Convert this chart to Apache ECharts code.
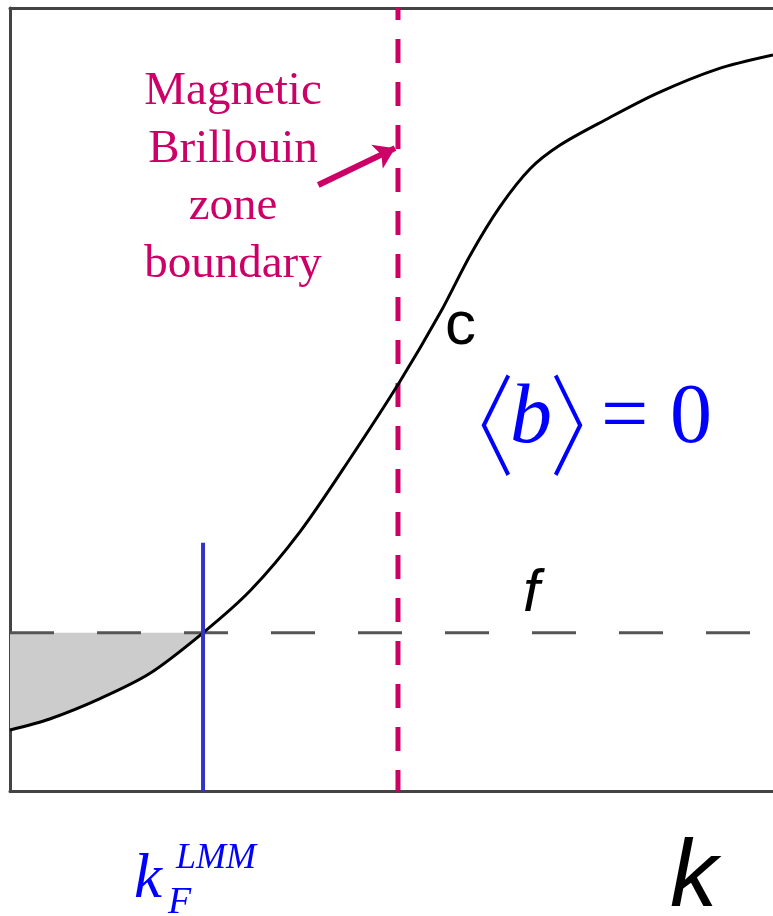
<!DOCTYPE html>
<html>
<head>
<meta charset="utf-8">
<script src="https://cdn.jsdelivr.net/npm/echarts@6/dist/echarts.min.js"></script>
<style>
  html, body { margin: 0; padding: 0; background: #ffffff; }
  #chart { width: 773px; height: 916px; }
</style>
</head>
<body>
<div id="chart"></div>
<script>
// Band dispersion c(k) across the reduced zone (k and energy in arbitrary units, 0..1)
const kValues = [0, 0.052, 0.118, 0.183, 0.253, 0.315, 0.380, 0.446, 0.511, 0.564,
                 0.603, 0.642, 0.682, 0.721, 0.780, 0.848, 0.927, 1.0];
const energy  = [0.078, 0.092, 0.118, 0.150, 0.202, 0.256, 0.331, 0.425, 0.523, 0.611,
                 0.684, 0.746, 0.795, 0.825, 0.857, 0.891, 0.922, 0.940];

// Fermi level f, Fermi wavevector k_F and the magnetic Brillouin zone boundary
const fermiLevel = 0.202;
const kFermi = 0.253;
const kFermiMarkerTop = 0.317;
const zoneBoundary = 0.5085;

// Annotation arrow (tail -> head), in data units
const arrowTail = [0.404, 0.774];
const arrowHead = [0.5046, 0.821];

const magenta = '#CC0066';
const blue = '#0000FF';

const curve = kValues.map((k, i) => [k, energy[i]]);
const occupied = curve.filter(p => p[0] <= kFermi + 1e-9);

const chart = echarts.init(document.getElementById('chart'), null, { renderer: 'canvas' });

const hiddenAxis = {
  type: 'value', min: 0, max: 1,
  axisTick: { show: false }, axisLabel: { show: false }, splitLine: { show: false }
};
const frameLine = { show: true, onZero: false, lineStyle: { color: '#444', width: 3 } };

chart.setOption({
  animation: false,
  backgroundColor: '#ffffff',
  grid: { left: 10, right: 0, top: 8, bottom: 125 },
  xAxis: [
    Object.assign({}, hiddenAxis, { position: 'bottom', axisLine: frameLine }),
    Object.assign({}, hiddenAxis, { position: 'top', axisLine: frameLine })
  ],
  yAxis: [
    Object.assign({}, hiddenAxis, { position: 'left', axisLine: frameLine })
  ],
  series: [
    {
      // filled states below the Fermi level
      type: 'line',
      data: occupied,
      smooth: 0.3,
      symbol: 'none',
      lineStyle: { width: 0, opacity: 0 },
      areaStyle: { color: '#CCCCCC', opacity: 1, origin: fermiLevel },
      silent: true,
      z: 1
    },
    {
      // Fermi level f
      type: 'line',
      data: [[0, fermiLevel], [1, fermiLevel]],
      symbol: 'none',
      lineStyle: { color: '#555555', width: 3, type: [44, 43] },
      silent: true,
      z: 2
    },
    {
      // magnetic Brillouin zone boundary
      type: 'line',
      data: [[zoneBoundary, 0], [zoneBoundary, 1]],
      symbol: 'none',
      lineStyle: { color: magenta, width: 5, type: [24, 19], dashOffset: 3 },
      silent: true,
      z: 3
    },
    {
      // band c
      type: 'line',
      data: curve,
      smooth: 0.3,
      symbol: 'none',
      lineStyle: { color: '#000000', width: 3 },
      silent: true,
      z: 4
    },
    {
      // k_F marker
      type: 'line',
      data: [[kFermi, 0], [kFermi, kFermiMarkerTop]],
      symbol: 'none',
      lineStyle: { color: '#3333CC', width: 4 },
      silent: true,
      z: 5
    },
    {
      // arrow pointing at the zone boundary
      type: 'line',
      data: [],
      silent: true,
      z: 6,
      markLine: {
        silent: true,
        animation: false,
        symbol: ['none', 'arrow'],
        symbolSize: 20,
        label: { show: false },
        lineStyle: { color: magenta, width: 6, type: 'solid' },
        data: [[{ coord: arrowTail }, { coord: arrowHead }]]
      }
    }
  ],
  graphic: [
    {
      type: 'text', x: 233, y: 178,
      style: {
        text: 'Magnetic\nBrillouin\nzone\nboundary',
        font: '47px "Liberation Serif"', lineHeight: 57.5,
        fill: magenta, align: 'center', verticalAlign: 'middle'
      }
    },
    {
      type: 'text', x: 445, y: 327,
      style: { text: 'c', font: '62px "Liberation Sans"', fill: '#000', align: 'left', verticalAlign: 'middle' }
    },
    {
      type: 'text', x: 523, y: 594,
      style: { text: 'f', font: 'italic 60px "Liberation Sans"', fill: '#000', align: 'left', verticalAlign: 'middle' }
    },
    // <b> = 0
    {
      type: 'text', x: 473, y: 425, scaleX: 0.75,
      style: { text: '〈', font: '300 110px "Noto Sans CJK SC"', fill: blue, align: 'center', verticalAlign: 'middle' }
    },
    {
      type: 'text', x: 510, y: 420,
      style: { text: 'b', font: 'italic 84px "Liberation Serif"', fill: blue, align: 'left', verticalAlign: 'middle' }
    },
    {
      type: 'text', x: 591, y: 425, scaleX: 0.75,
      style: { text: '〉', font: '300 110px "Noto Sans CJK SC"', fill: blue, align: 'center', verticalAlign: 'middle' }
    },
    {
      type: 'text', x: 601, y: 420,
      style: { text: '=', font: '84px "Liberation Serif"', fill: blue, align: 'left', verticalAlign: 'middle' }
    },
    {
      type: 'text', x: 670, y: 420,
      style: { text: '0', font: '84px "Liberation Serif"', fill: blue, align: 'left', verticalAlign: 'middle' }
    },
    // k_F^LMM
    {
      type: 'text', x: 134, y: 880,
      style: { text: 'k', font: 'italic 63px "Liberation Serif"', fill: blue, align: 'left', verticalAlign: 'middle' }
    },
    {
      type: 'text', x: 176, y: 859,
      style: { text: 'LMM', font: 'italic 36px "Liberation Serif"', fill: blue, align: 'left', verticalAlign: 'middle' }
    },
    {
      type: 'text', x: 168, y: 903,
      style: { text: 'F', font: 'italic 38px "Liberation Serif"', fill: blue, align: 'left', verticalAlign: 'middle' }
    },
    {
      type: 'text', x: 670, y: 880,
      style: { text: 'k', font: 'italic 95px "Liberation Sans"', fill: '#000', align: 'left', verticalAlign: 'middle' }
    }
  ]
});
</script>
</body>
</html>
